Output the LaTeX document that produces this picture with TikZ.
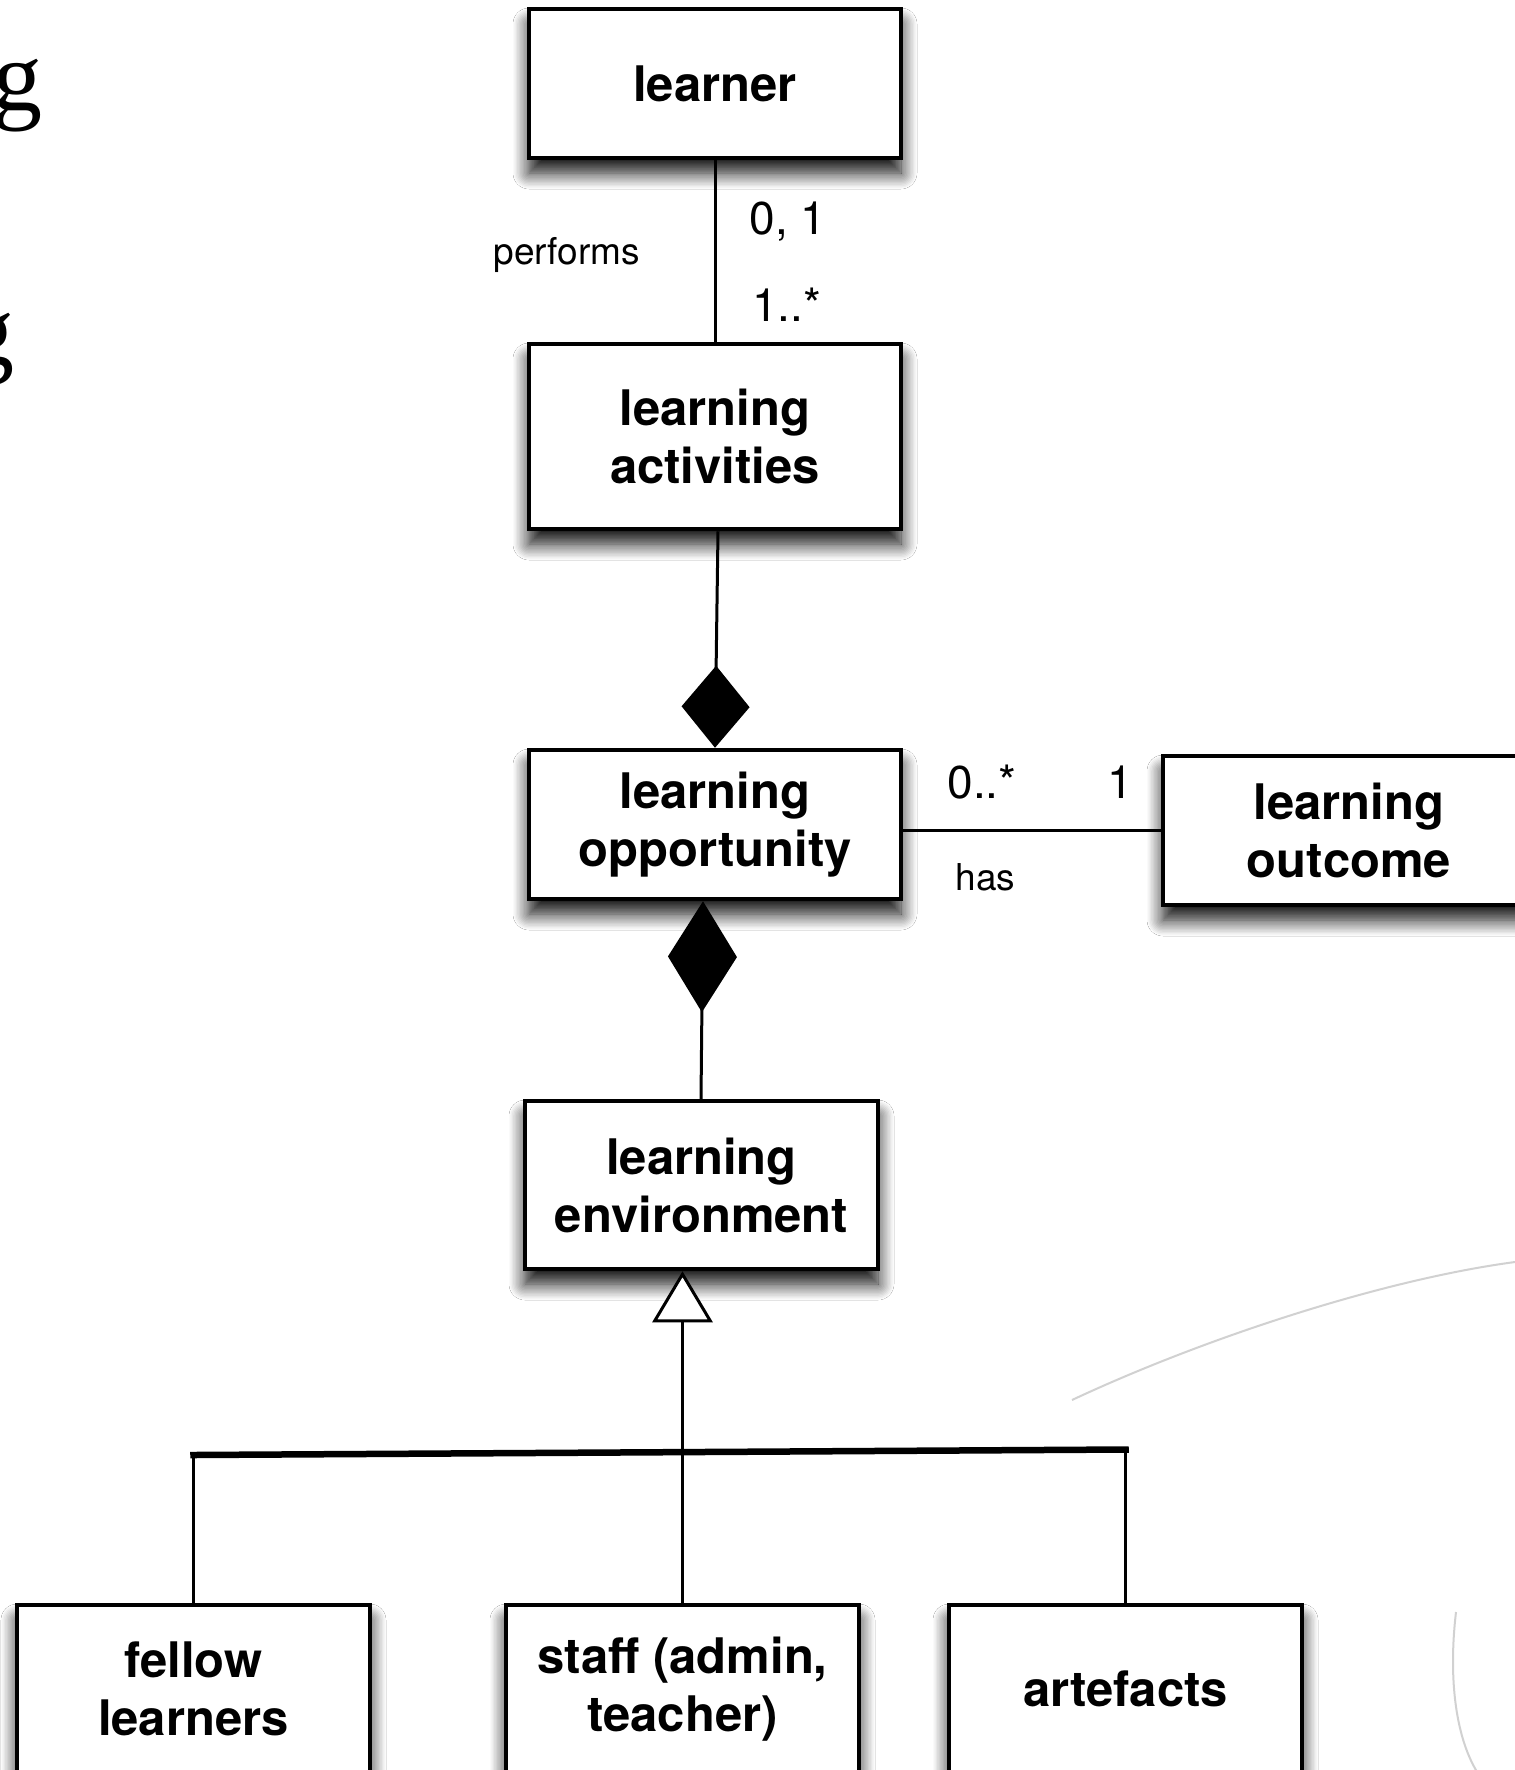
\documentclass[tikz,border=0pt]{standalone}
\usepackage{fontspec}
\newfontfamily\hv{TeX Gyre Heros}
\newfontfamily\tms{Liberation Serif}
\usetikzlibrary{arrows.meta,shadows.blur}
\begin{document}
\begin{tikzpicture}[x=1pt,y=-1pt,
 cls/.style={draw=black, line width=4.5pt, fill=white, inner sep=0pt, align=center,
   font=\hv\bfseries\fontsize{49}{58}\selectfont,
   blur shadow={shadow xshift=0pt, shadow yshift=-15pt, shadow blur radius=16pt, shadow blur steps=12, shadow opacity=95}},
 wide/.style={minimum width=372pt},
 narrow/.style={minimum width=353pt, minimum height=168pt},
 conn/.style={line width=3pt},
 mult/.style={font=\hv\fontsize{46}{50}\selectfont, anchor=base, inner sep=0pt},
 lbl/.style={font=\hv\fontsize{37}{40}\selectfont, anchor=base, inner sep=0pt},
 deco/.style={draw=black!18, line width=2pt},
 bigg/.style={font=\tms\fontsize{100}{100}\selectfont, anchor=base east, inner sep=0pt}
]
\useasboundingbox (0,0) rectangle (1515,1770);
\fill[white] (0,0) rectangle (1515,1770);

% title fragments at the left edge (cut off as in the reference)
\node[bigg] (g1) at (43,110) {g};
\node[bigg] (g2) at (15,364) {g};

% background decoration
\draw[deco] (1072,1400) .. controls (1200,1340) and (1380,1280) .. (1515,1262);
\draw[deco] (1456,1612) .. controls (1448,1680) and (1456,1740) .. (1479,1775);

% classes
\node[cls, wide, minimum height=149pt] (learner) at (715,83.5) {learner};
\node[cls, wide, minimum height=185pt] (activities) at (715,436.5) {learning\\activities};
\node[cls, wide, minimum height=149pt] (opportunity) at (715,824.5) {learning\\opportunity};
\node[cls, wide, minimum height=149pt] (outcome) at (1349,830.5) {learning\\outcome};
\node[cls, narrow] (environment) at (701.5,1185) {learning\\environment};
\node[cls, narrow] (fellow) at (193.5,1689) {fellow\\learners};
\node[cls, narrow] (staff) at (682.5,1689) {staff (admin,\\teacher)};
\node[cls, narrow] (artefacts) at (1125.5,1689) {artefacts};

% associations
\draw[conn] (learner) -- (activities);
\node[lbl] (performs) at (566.7,264) {performs};
\node[mult] (m01) at (788,234.8) {0, 1};
\node[mult] (m1s) at (786.8,321.7) {1..*};

\draw[conn, -{Diamond[length=82pt,width=68pt]}] ([xshift=3pt]activities.south) -- (opportunity.north);
\draw[conn, {Diamond[length=111pt,width=69pt]}-] ([xshift=-12pt]opportunity.south) -- ([xshift=-0.5pt]environment.north);

\draw[conn] (opportunity.east |- outcome.west) -- (outcome.west);
\node[mult] (m0s) at (982,798) {0..*};
\node[mult] (m1) at (1120,798) {1};
\node[lbl] (has) at (985.5,890.7) {has};

% generalisation
\coordinate (barL) at (193.5,1455);
\coordinate (barR) at (1125.5,1449.5);
\draw[conn, -{Triangle[open, length=51pt, width=60pt, fill=white]}] (staff.north) -- (staff.north |- environment.south);
\draw[conn] (fellow.north) -- (barL);
\draw[conn] (artefacts.north) -- (barR);
\draw[line width=6.5pt, line cap=rect] (barL) -- (barR);
\end{tikzpicture}
\end{document}
